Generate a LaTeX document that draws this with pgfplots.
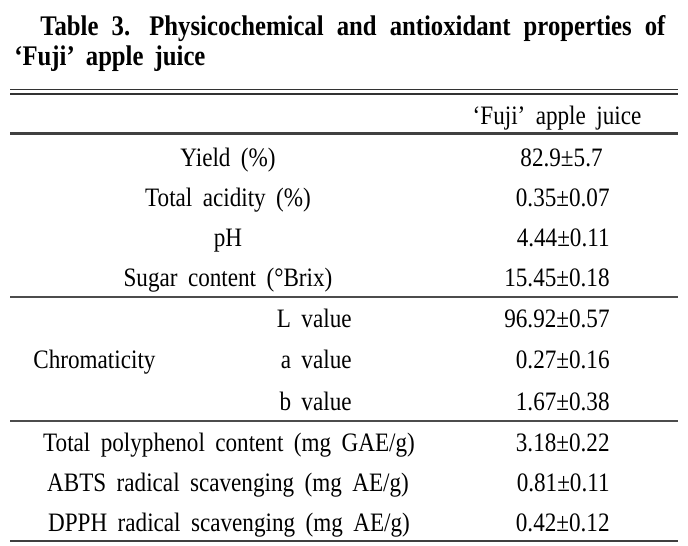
\documentclass[border=0pt]{standalone}
\usepackage{fontspec}
\setmainfont{Liberation Serif}[FakeStretch=0.87, WordSpace=1.8]
\usepackage{pgfplots}
\pgfplotsset{compat=1.18}
\begin{document}
\begin{tikzpicture}
\begin{axis}[scale only axis, width=344pt, height=272.5pt,
  xmin=0, xmax=688, ymin=0, ymax=545, y dir=reverse,
  hide axis, clip=false]
\path (axis cs:0,0) rectangle (axis cs:688,545);
\tikzset{t/.style={inner sep=0pt, font=\fontsize{13.3}{15}\selectfont}}
% title
\node[t, anchor=base west, font=\fontsize{14.2}{16}\selectfont\bfseries] at (axis cs:40,36)
  {\makebox[312.5pt][s]{Table 3. Physicochemical and antioxidant properties of}};
\node[t, anchor=base west, font=\fontsize{14.2}{16}\selectfont\bfseries] at (axis cs:14,66)
  {‘Fuji’ apple juice};
% rules
\draw[line width=0.8pt, black!80] (axis cs:10,89.5) -- (axis cs:678,89.5);
\draw[line width=0.8pt, black!80] (axis cs:10,94) -- (axis cs:678,94);
\draw[line width=1.2pt, black!75] (axis cs:10,133.5) -- (axis cs:678,133.5);
\draw[line width=1pt, black!70] (axis cs:10,297) -- (axis cs:678,297);
\draw[line width=1pt, black!70] (axis cs:10,421) -- (axis cs:678,421);
\draw[line width=1.1pt, black!75] (axis cs:10,541) -- (axis cs:678,541);
% header
\node[t, anchor=base] at (axis cs:557,125) {‘Fuji’ apple juice};
% column 1
\node[t, anchor=base] at (axis cs:228,166) {Yield (\%)};
\node[t, anchor=base] at (axis cs:228,206) {Total acidity (\%)};
\node[t, anchor=base] at (axis cs:228,246) {pH};
\node[t, anchor=base] at (axis cs:228,286) {Sugar content (°Brix)};
\node[t, anchor=base west] at (axis cs:33,368) {Chromaticity};
\node[t, anchor=base east] at (axis cs:352,327) {L value};
\node[t, anchor=base east] at (axis cs:352,368) {a value};
\node[t, anchor=base east] at (axis cs:352,410) {b value};
\node[t, anchor=base] at (axis cs:229,451) {Total polyphenol content (mg GAE/g)};
\node[t, anchor=base] at (axis cs:228,491) {ABTS radical scavenging (mg AE/g)};
\node[t, anchor=base] at (axis cs:229,531) {DPPH radical scavenging (mg AE/g)};
% column 2
\node[t, anchor=base east] at (axis cs:603,166) {82.9±5.7};
\node[t, anchor=base east] at (axis cs:610,206) {0.35±0.07};
\node[t, anchor=base east] at (axis cs:610,246) {4.44±0.11};
\node[t, anchor=base east] at (axis cs:610,286) {15.45±0.18};
\node[t, anchor=base east] at (axis cs:610,327) {96.92±0.57};
\node[t, anchor=base east] at (axis cs:610,368) {0.27±0.16};
\node[t, anchor=base east] at (axis cs:610,410) {1.67±0.38};
\node[t, anchor=base east] at (axis cs:610,451) {3.18±0.22};
\node[t, anchor=base east] at (axis cs:610,491) {0.81±0.11};
\node[t, anchor=base east] at (axis cs:610,531) {0.42±0.12};
\end{axis}
\end{tikzpicture}
\end{document}
